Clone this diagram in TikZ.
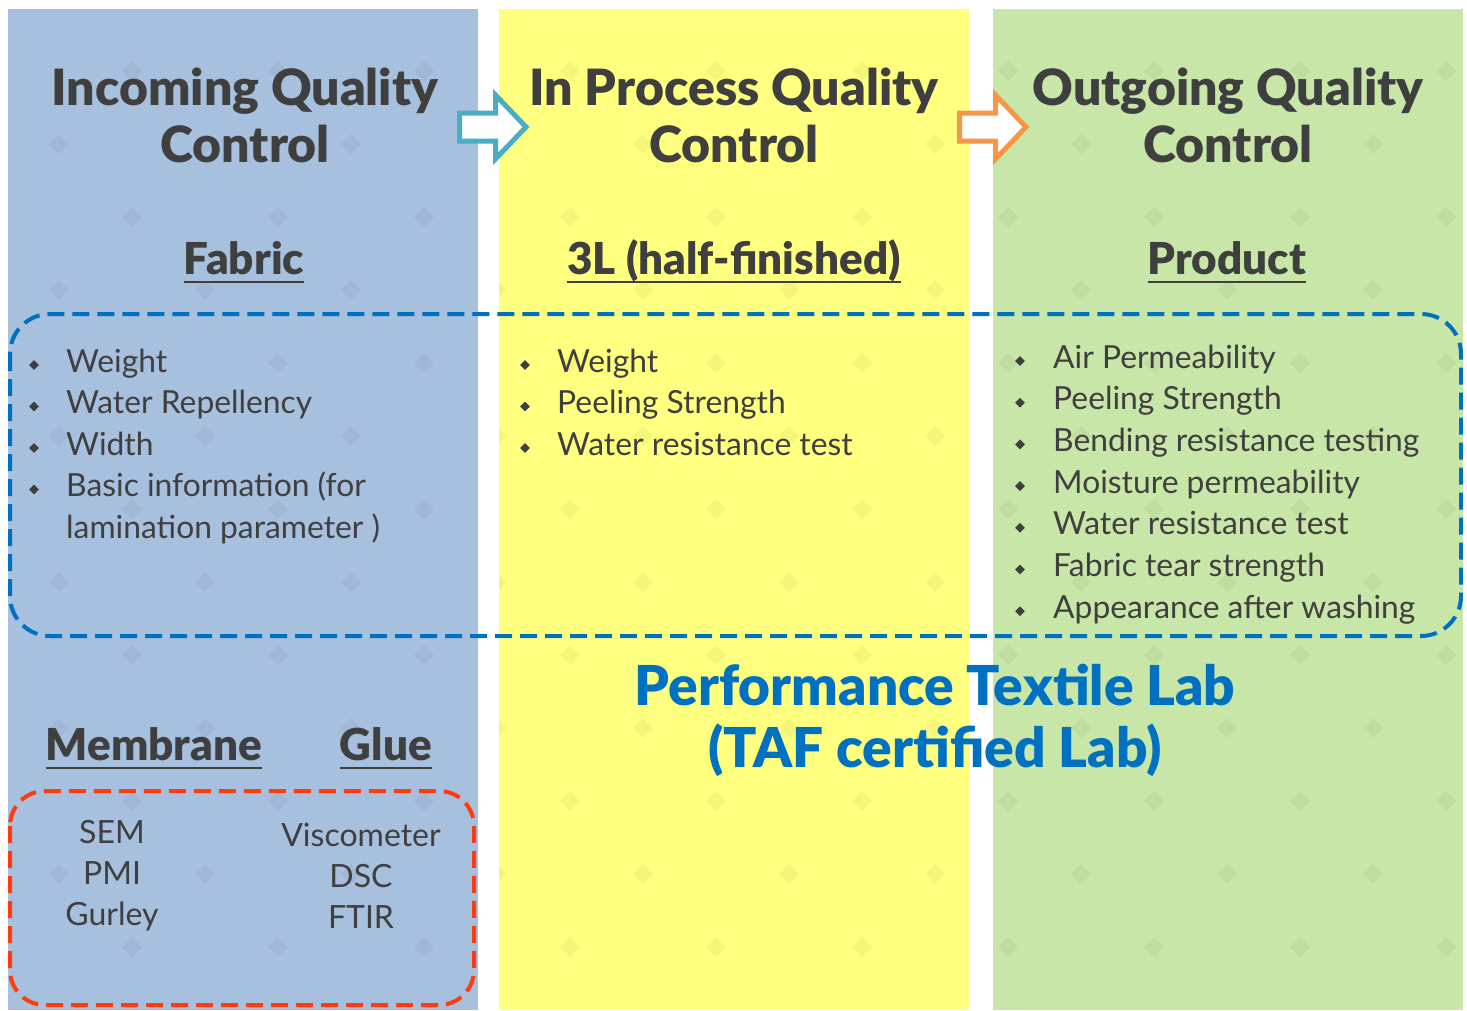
\documentclass[tikz,border=0pt]{standalone}
\usepackage{fontspec}
\setmainfont{Lato}[BoldFont={Lato Black}]
\usetikzlibrary{shapes.geometric}

\definecolor{iqcblue}{HTML}{A7C0DE}
\definecolor{ipqyellow}{HTML}{FFFF80}
\definecolor{oqcgreen}{HTML}{C8E6A8}
\definecolor{txtgray}{HTML}{3F3F3F}
\definecolor{labblue}{HTML}{0070C0}
\definecolor{redline}{HTML}{FF3B10}
\definecolor{arrowcyan}{HTML}{4BACC6}
\definecolor{arroworange}{HTML}{F79646}

\tikzset{
  title/.style={font=\fontsize{50}{57}\selectfont\bfseries, text=txtgray, align=center, inner sep=0pt},
  subhead/.style={font=\fontsize{44}{48}\selectfont\bfseries, text=txtgray, inner sep=0pt, anchor=base},
  ubar/.style={draw=txtgray, line width=1.6pt},
  listitem/.style={font=\fontsize{31.8}{40}\selectfont, text=txtgray, inner sep=0pt, anchor=base west},
  bullet/.style={diamond, fill=txtgray, inner sep=0pt, minimum size=10pt},
  kit/.style={font=\fontsize{32}{40}\selectfont, text=txtgray, inner sep=0pt, anchor=base},
  labtext/.style={font=\fontsize{55}{60}\selectfont\bfseries, text=labblue, inner sep=0pt, anchor=base},
  labbox/.style={draw=labblue, line width=4pt, dash pattern=on 17pt off 8pt, rounded corners=40pt},
  kitbox/.style={draw=redline, line width=4pt, dash pattern=on 17pt off 8pt, rounded corners=35pt},
  blockarrow/.style={fill=white, line width=5pt, line join=miter}
}

\begin{document}
\begin{tikzpicture}[x=1pt,y=-1pt]
  \useasboundingbox[fill=white] (0,0) rectangle (1467,1010);
  % columns
  \fill[iqcblue] (8,9) rectangle (478,1010);
  \fill[ipqyellow] (499,9) rectangle (969,1010);
  \fill[oqcgreen] (993,9) rectangle (1463,1010);
  % faint diamond pattern
  \begin{scope}
    \clip (8,9) rectangle (478,1010) (499,9) rectangle (969,1010) (993,9) rectangle (1463,1010);
    \foreach \i in {-4,...,6} \foreach \j in {-5,...,2}
      \fill[black,opacity=0.04] (570+146*\i,645+146*\j) -- ++(10,10) -- ++(-10,10) -- ++(-10,-10) -- cycle;
    \foreach \i in {-5,...,5} \foreach \j in {-5,...,2}
      \fill[black,opacity=0.04] (643+146*\i,718+146*\j) -- ++(10,10) -- ++(-10,10) -- ++(-10,-10) -- cycle;
  \end{scope}

  % titles
  \node[title] (iqc) at (245,115) {Incoming Quality\\Control};
  \node[title] (ipqc) at (734,115) {In Process Quality\\Control};
  \node[title] (oqc) at (1228,115) {Outgoing Quality\\Control};

  % block arrows
  \foreach \dx/\col in {0/arrowcyan,500/arroworange}
    \draw[blockarrow,draw=\col] (459.5+\dx,113) -- (495.5+\dx,113) -- (495.5+\dx,95) -- (526+\dx,127)
      -- (495.5+\dx,159) -- (495.5+\dx,141) -- (459.5+\dx,141) -- cycle;

  % sub headings
  \node[subhead] (fab) at (244,274) {Fabric};
  \node[subhead] (half) at (734,274) {3L (half-finished)};
  \node[subhead] (prod) at (1227,274) {Product};
  \node[subhead] (mem) at (154,760) {Membrane};
  \node[subhead] (glue) at (386,760) {Glue};
  \foreach \h in {fab,half,prod,mem,glue}
    \draw[ubar] ([yshift=-8pt]\h.base west) -- ([yshift=-8pt]\h.base east);

  % lab box
  \draw[labbox] (10,314) rectangle (1461,636);

  % fabric list
  \foreach \txt [count=\i] in {Weight,Water Repellency,Width,Basic information (for}{
    \node[bullet] (fb\i) at (34,365+41.5*\i-41.5) {};
    \node[listitem] (ft\i) at (66,372+41.5*\i-41.5) {\txt};
  }
  \node[listitem] (ft5) at (66,538) {lamination parameter )};

  % half-finished list
  \foreach \txt [count=\i] in {Weight,Peeling Strength,Water resistance test}{
    \node[bullet] (hb\i) at (525,365+41.5*\i-41.5) {};
    \node[listitem] (ht\i) at (557,372+41.5*\i-41.5) {\txt};
  }

  % product list
  \foreach \txt [count=\i] in {Air Permeability,Peeling Strength,Bending resistance testing,Moisture permeability,Water resistance test,Fabric tear strength,Appearance after washing}{
    \node[bullet] (pb\i) at (1020,361+41.7*\i-41.7) {};
    \node[listitem] (pt\i) at (1053,368+41.7*\i-41.7) {\txt};
  }

  % lab name
  \node[labtext] (lab1) at (935,705) {Performance Textile Lab};
  \node[labtext] (lab2) at (935,767) {(TAF certified Lab)};

  % membrane and glue tests
  \draw[kitbox] (10,791) rectangle (474,1005);
  \foreach \txt [count=\i] in {SEM,PMI,Gurley}
    \node[kit] (mt\i) at (112,843+41*\i-41) {\txt};
  \foreach \txt [count=\i] in {Viscometer,DSC,FTIR}
    \node[kit] (gt\i) at (361,846+41*\i-41) {\txt};
\end{tikzpicture}
\end{document}
